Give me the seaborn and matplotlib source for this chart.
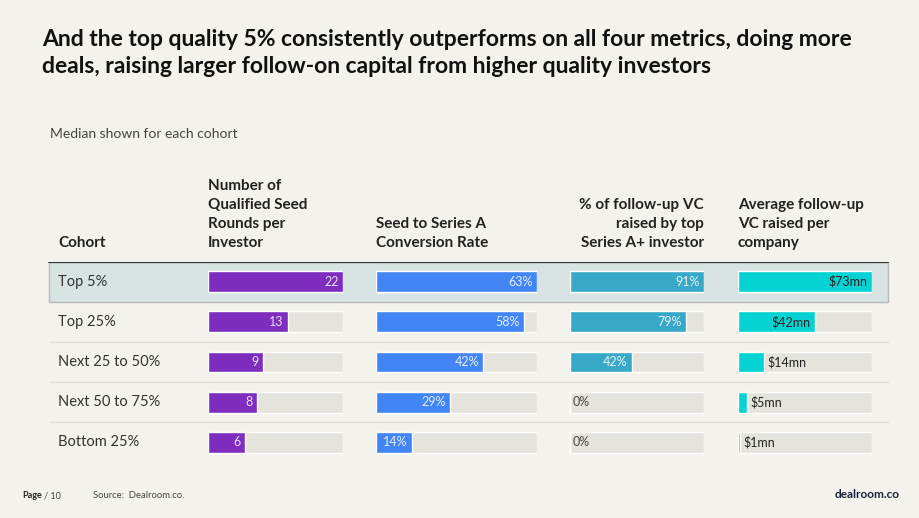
import matplotlib
matplotlib.use("Agg")
import matplotlib.pyplot as plt
import seaborn as sns
import pandas as pd
from matplotlib.patches import Rectangle

# data
cohorts = ["Top 5%", "Top 25%", "Next 25 to 50%", "Next 50 to 75%", "Bottom 25%"]
seed_rounds = [22, 13, 9, 8, 6]
conversion = [63, 58, 42, 29, 14]
followup_share = [91, 79, 42, 0, 0]
avg_followup = [73, 42, 14, 5, 1]

headers = [
    "Number of\nQualified Seed\nRounds per\nInvestor",
    "Seed to Series A\nConversion Rate",
    "% of follow-up VC\nraised by top\nSeries A+ investor",
    "Average follow-up\nVC raised per\ncompany",
]

BG = "#f3f2ec"
TRACK = "#e4e3dc"
W, H = 920, 518

sns.set_theme(style="white")
plt.rcParams["font.family"] = ["Lato", "DejaVu Sans"]

fig = plt.figure(figsize=(W / 100, H / 100), dpi=100)
fig.patch.set_facecolor(BG)


def fx(x):
    return x / W


def fy(y):
    return 1 - y / H


def px_axes(x0, y0, x1, y1):
    return fig.add_axes([fx(x0), fy(y1), (x1 - x0) / W, (y1 - y0) / H])


# title and subtitle
fig.text(fx(42), fy(29), "And the top quality 5% consistently outperforms on all four metrics, doing more\n"
         "deals, raising larger follow-on capital from higher quality investors",
         fontsize=16.5, fontweight="bold", color="#111111", va="top", linespacing=1.38)
fig.text(fx(50), fy(134), "Median shown for each cohort", fontsize=10, color="#444444", va="center")

row_top, row_h = 261.5, 40.2
row_bot = row_top + row_h * len(cohorts)

# table background: highlight row and separators
bg = px_axes(0, row_top, W, row_bot)
bg.set_xlim(0, W)
bg.set_ylim(len(cohorts), 0)
bg.axis("off")
bg.add_patch(Rectangle((49, 0), 839, 1, facecolor="#d8e3e3", edgecolor="#b5baba", lw=1))
bg.plot([49, 888], [0, 0], color="#333333", lw=1.6)
for i in range(2, len(cohorts)):
    bg.plot([49, 888], [i, i], color="#e0dfd8", lw=1)
for i, c in enumerate(cohorts):
    bg.text(58, i + 0.5, c, fontsize=10.5, color="#333333", va="center")

# header
fig.text(fx(58), fy(250), "Cohort", fontsize=11, fontweight="bold", color="#222222", va="bottom")

columns = [
    (208, 343, seed_rounds, "#7f2dbf", "{}", "#eadcf7", headers[0], "left"),
    (376, 537, conversion, "#4285f4", "{}%", "#e6eefc", headers[1], "left"),
    (570, 704, followup_share, "#37a8c8", "{}%", "#e6f4f8", headers[2], "right"),
    (738, 872, avg_followup, "#05d3d3", "${}mn", "#222222", headers[3], "left"),
]

for x0, x1, vals, color, fmt, lab_color, head, align in columns:
    ax = px_axes(x0, row_top, x1, row_bot)
    vmax = max(vals)
    df = pd.DataFrame({"cohort": cohorts, "value": vals, "track": [vmax] * len(vals)})
    sns.barplot(data=df, y="cohort", x="track", color=TRACK, width=0.52, ax=ax, saturation=1)
    sns.barplot(data=df, y="cohort", x="value", color=color, width=0.52, ax=ax, saturation=1)
    ax.set_xlim(0, vmax)
    ax.set_ylim(len(vals) - 0.5, -0.5)
    ax.axis("off")
    for i, v in enumerate(vals):
        label = fmt.format(v)
        if v == 0:
            ax.annotate(label, (0, i), xytext=(2, 0), textcoords="offset points",
                        ha="left", va="center", fontsize=9, color="#444444")
        elif v / vmax < 0.22 and fmt.startswith("$"):
            ax.annotate(label, (v, i), xytext=(2.5, 0), textcoords="offset points",
                        ha="left", va="center", fontsize=9, color="#222222")
        else:
            ax.annotate(label, (v, i), xytext=(-3, 0), textcoords="offset points",
                        ha="right", va="center", fontsize=9, color=lab_color)
    hx = x0 if align == "left" else x1
    fig.text(fx(hx), fy(250), head, fontsize=11, fontweight="bold", color="#222222",
             va="bottom", ha=align, multialignment=align, linespacing=1.45)

# footer
fig.text(fx(22), fy(496), "Page", fontsize=6.5, fontweight="bold", color="#222222", va="center")
fig.text(fx(44), fy(496), "/ 10", fontsize=6.5, color="#444444", va="center")
fig.text(fx(93), fy(496), "Source:  Dealroom.co.", fontsize=6.8, color="#444444", va="center")
fig.text(fx(900), fy(495), "dealroom.co", fontsize=8.5, fontweight="bold", color="#1a1f3d",
         va="center", ha="right")

fig.savefig("out.png", dpi=100, facecolor=BG)
